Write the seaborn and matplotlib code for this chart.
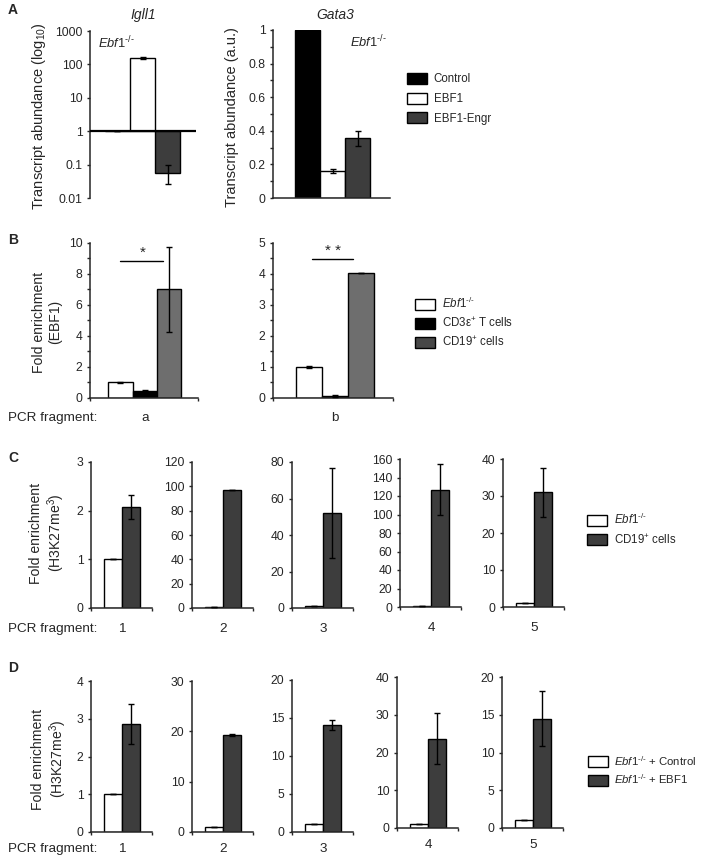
import numpy as np
import pandas as pd
import matplotlib
matplotlib.use("Agg")
import matplotlib.pyplot as plt
from matplotlib.patches import Patch
from matplotlib.ticker import MultipleLocator, FixedLocator, NullLocator
import seaborn as sns

sns.set_style("ticks")
plt.rcParams['font.family'] = ['Liberation Sans', 'DejaVu Sans']
plt.rcParams['mathtext.fontset'] = 'custom'
plt.rcParams['mathtext.rm'] = 'Liberation Sans'
plt.rcParams['mathtext.it'] = 'Liberation Sans:italic'
plt.rcParams['mathtext.bf'] = 'Liberation Sans:bold'
plt.rcParams['axes.linewidth'] = 1.1

#### DATA ####
# A: transcript abundance in Ebf1-/- cells
a_groups = ['Control', 'EBF1', 'EBF1-Engr']
igll1_vals = [1.0, 160, 0.058]
igll1_err_lo = [0, 10, 0.031]
igll1_err_hi = [0, 10, 0.037]
gata3_vals = [1.0, 0.16, 0.355]
gata3_err = [0, 0.01, 0.045]

KO = r'$\mathit{Ebf1}^{\mathit{‐/‐}}$'

# B: EBF1 ChIP, fragments a and b
b_groups = [KO, r'CD3ε$^{+}$ T cells', r'CD19$^{+}$ cells']
b_fragments = ['a', 'b']
b_vals = [[1.0, 0.45, 7.0], [1.0, 0.06, 4.03]]
b_err = [[0.03, 0.05, 2.75], [0.02, 0.03, 0.01]]
b_ymax = [10, 5]

# C: H3K27me3, Ebf1-/- vs CD19+ cells
c_groups = [KO, r'CD19$^{+}$ cells']
c_fragments = ['1', '2', '3', '4', '5']
c_ctrl = [1.0, 1.0, 1.0, 1.0, 1.0]
c_cd19 = [2.07, 97, 52, 127, 31]
c_cd19_err = [0.25, 0, 24.5, 27.5, 6.7]
c_ymax = [3, 120, 80, 160, 40]
c_ystep = [1, 20, 20, 20, 10]

# D: H3K27me3, Ebf1-/- + Control vs + EBF1
d_groups = [KO + ' + Control', KO + ' + EBF1']
d_fragments = ['1', '2', '3', '4', '5']
d_ctrl = [1.0, 1.0, 1.0, 1.0, 1.0]
d_ebf1 = [2.87, 19.3, 14.1, 23.7, 14.5]
d_ebf1_err = [0.53, 0.15, 0.7, 6.8, 3.6]
d_ymax = [4, 30, 20, 40, 20]
d_ystep = [1, 10, 5, 10, 5]

#### STYLE ####
W, H = 702, 858
DARK = '#3d3d3d'
a_colors = ['black', 'white', DARK]
b_colors = ['white', 'black', '#6e6e6e']
b_legend_colors = ['white', 'black', '#474747']
cd_colors = ['white', DARK]
TICK_FS = 8.7
LAB_FS = 9.7
YLAB_FS = 10.1

fig = plt.figure(figsize=(W / 100, H / 100), dpi=100)


def add_ax(x0, y0, x1, y1):
    return fig.add_axes([x0 / W, 1 - y1 / H, (x1 - x0) / W, (y1 - y0) / H])


def fmt(v):
    return f"{v:g}"


def style_axis(ax, xlim, xpad):
    sns.despine(ax=ax)
    ax.set_xlim(*xlim)
    ax.set_xlabel('')
    ax.set_ylabel('')
    ax.xaxis.set_minor_locator(FixedLocator(list(xlim)))
    ax.tick_params(axis='x', which='major', length=0, labelsize=LAB_FS, pad=xpad)
    ax.tick_params(axis='x', which='minor', length=2.5, width=1, direction='out')
    ax.tick_params(axis='y', which='both', direction='out', width=1, labelsize=TICK_FS, pad=3)
    ax.tick_params(axis='y', which='major', length=2.5)
    ax.tick_params(axis='y', which='minor', length=2.0)


def bar_panel(ax, groups, vals, errs, colors, xlim, ymax, ystep, label, label_x, xpad, yminor=None):
    df = pd.DataFrame({'group': groups, 'value': vals})
    sns.barplot(data=df, x='group', y='value', hue='group', order=groups, hue_order=groups,
                palette=dict(zip(groups, colors)), width=1, edgecolor='black', linewidth=1.0,
                errorbar=None, legend=False, ax=ax)
    ax.errorbar(np.arange(len(groups)), vals, yerr=errs, fmt='none', ecolor='black',
                elinewidth=1, capsize=2.5, capthick=1, zorder=5)
    ax.set_ylim(0, ymax)
    yt = np.arange(0, ymax + ystep / 2, ystep)
    ax.set_yticks(yt)
    ax.set_yticklabels([fmt(v) for v in yt])
    if yminor:
        ax.yaxis.set_minor_locator(MultipleLocator(yminor))
    ax.set_xticks([label_x])
    ax.set_xticklabels([label])
    style_axis(ax, xlim, xpad)


def add_legend(labels, colors, x, y, spacing, fs=8.3):
    handles = [Patch(facecolor=c, edgecolor='black', linewidth=1) for c in colors]
    fig.legend(handles, labels, loc='upper left', bbox_to_anchor=(x / W, 1 - y / H), frameon=False,
               fontsize=fs, handlelength=1.75, handleheight=1.1, handletextpad=0.55,
               labelspacing=spacing, borderpad=0, borderaxespad=0)


#### PANEL A ####
ax = add_ax(90, 31, 196, 198)
pos = np.arange(len(a_groups))
ax.bar(pos, np.array(igll1_vals) - 1, bottom=1, width=1, color=a_colors, edgecolor='black', linewidth=1.0)
ax.errorbar(pos, igll1_vals, yerr=[igll1_err_lo, igll1_err_hi], fmt='none', ecolor='black',
            elinewidth=1, capsize=2.5, capthick=1, zorder=5)
ax.set_yscale('log')
ax.set_ylim(0.01, 1000)
ax.set_yticks([0.01, 0.1, 1, 10, 100, 1000])
ax.set_yticklabels(['0.01', '0.1', '1', '10', '100', '1000'])
ax.yaxis.set_minor_locator(NullLocator())
ax.axhline(1, color='black', lw=1.6, zorder=6)
ax.set_xticks([])
style_axis(ax, (-1.1, 3.14), 0)
ax.xaxis.set_minor_locator(NullLocator())
ax.spines['bottom'].set_visible(False)

ax = add_ax(273, 30, 390, 198)
bar_panel(ax, a_groups, gata3_vals, gata3_err, a_colors, (-1.38, 3.28), 1, 0.2, '', 1, 0, yminor=0.1)
ax.set_xticks([])
ax.xaxis.set_minor_locator(NullLocator())

fig.text(8 / W, 1 - 10 / H, 'A', fontsize=10, weight='bold', va='center', ha='left')
fig.text(143 / W, 1 - 15 / H, 'Igll1', fontsize=10, style='italic', ha='center', va='center')
fig.text(335 / W, 1 - 15 / H, 'Gata3', fontsize=10, style='italic', ha='center', va='center')
fig.text(116 / W, 1 - 43 / H, KO, fontsize=9.3, ha='center', va='center')
fig.text(368 / W, 1 - 42 / H, KO, fontsize=9.3, ha='center', va='center')
fig.text(39 / W, 1 - 116 / H, r'Transcript abundance (log$_{10}$)', fontsize=10.5, rotation=90, ha='center', va='center')
fig.text(232 / W, 1 - 117 / H, 'Transcript abundance (a.u.)', fontsize=10.5, rotation=90, ha='center', va='center')

add_legend(a_groups, a_colors, 407, 73, 0.62)

#### PANEL B ####
b_boxes = [(90, 243, 198, 398), (273, 243, 393, 398)]
b_xlims = [(-1.255, 3.19), (-1.38, 3.25)]
b_minor = [1, 0.5]
b_axes = []
for i in range(2):
    ax = add_ax(*b_boxes[i])
    bar_panel(ax, b_groups, b_vals[i], b_err[i], b_colors, b_xlims[i], b_ymax[i], b_ymax[i] / 5,
              b_fragments[i], 1, 10, yminor=b_minor[i])
    b_axes.append(ax)

b_axes[0].plot([-0.02, 1.75], [8.84, 8.84], color='black', lw=1)
b_axes[0].text(0.93, 8.9, '*', ha='center', va='bottom', fontsize=11)
b_axes[1].plot([0.12, 1.69], [4.48, 4.48], color='black', lw=1)
b_axes[1].text(0.92, 4.5, '* *', ha='center', va='bottom', fontsize=11)

fig.text(8 / W, 1 - 240 / H, 'B', fontsize=10, weight='bold', va='center', ha='left')
fig.text(47 / W, 1 - 322 / H, 'Fold enrichment\n(EBF1)', fontsize=YLAB_FS, rotation=90, ha='center', va='center', linespacing=1.2)
fig.text(8 / W, 1 - 418 / H, 'PCR fragment:', fontsize=LAB_FS, ha='left', va='center')
add_legend(b_groups, b_legend_colors, 415, 296, 0.45)

#### PANEL C ####
c_x0 = [91, 192, 292, 400, 503]
c_top = [462, 462, 462, 459, 459]
c_bot = [608, 608, 608, 607, 607]
for i in range(5):
    ax = add_ax(c_x0[i], c_top[i], c_x0[i] + 61, c_bot[i])
    bar_panel(ax, c_groups, [c_ctrl[i], c_cd19[i]], [0, c_cd19_err[i]], cd_colors, (-1.22, 2.15),
              c_ymax[i], c_ystep[i], c_fragments[i], 0.5, 10.5)

fig.text(8 / W, 1 - 458 / H, 'C', fontsize=10, weight='bold', va='center', ha='left')
fig.text(48 / W, 1 - 533 / H, 'Fold enrichment\n(H3K27me$^{3}$)', fontsize=YLAB_FS, rotation=90, ha='center', va='center', linespacing=1.2)
fig.text(8 / W, 1 - 629 / H, 'PCR fragment:', fontsize=LAB_FS, ha='left', va='center')
add_legend(c_groups, cd_colors, 587, 512, 0.5)

#### PANEL D ####
d_x0 = [91, 192, 292, 397, 502]
d_top = [681, 681, 680, 677, 677]
d_bot = [832, 832, 832, 828, 828]
for i in range(5):
    ax = add_ax(d_x0[i], d_top[i], d_x0[i] + 61, d_bot[i])
    bar_panel(ax, d_groups, [d_ctrl[i], d_ebf1[i]], [0, d_ebf1_err[i]], cd_colors, (-1.22, 2.15),
              d_ymax[i], d_ystep[i], d_fragments[i], 0.5, 8)

fig.text(8 / W, 1 - 668 / H, 'D', fontsize=10, weight='bold', va='center', ha='left')
fig.text(50 / W, 1 - 759 / H, 'Fold enrichment\n(H3K27me$^{3}$)', fontsize=YLAB_FS, rotation=90, ha='center', va='center', linespacing=1.2)
fig.text(8 / W, 1 - 849 / H, 'PCR fragment:', fontsize=LAB_FS, ha='left', va='center')
add_legend(d_groups, cd_colors, 588, 754, 0.4, fs=8.2)

plt.savefig('out.png', dpi=100)
